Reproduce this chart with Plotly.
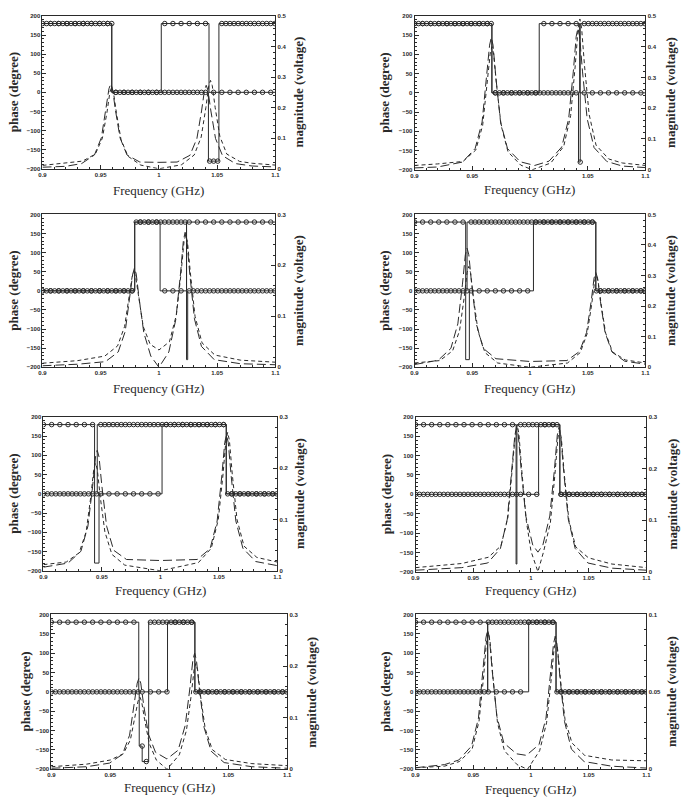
import numpy as np
import plotly.graph_objects as go

# ---------------- data ----------------
FREQ_RANGE = [0.9, 1.1]
MAG_MAX = [0.5, 0.5, 0.3, 0.5, 0.3, 0.3, 0.3, 0.1]

# magnitude (voltage) curves: long-dash (L) and short-dash (S)
P1_L_F = [0.9, 0.92, 0.9336, 0.9446, 0.9506, 0.9546, 0.9571, 0.9586, 0.9601, 0.9626, 0.9666, 0.9726, 0.9836, 1.0, 1.0156, 1.0266, 1.0326, 1.0366, 1.0391, 1.0406, 1.0421, 1.0446, 1.0486, 1.0546, 1.0656, 1.08, 1.1]
P1_L_M = [0.005, 0.008, 0.017, 0.045, 0.102, 0.194, 0.262, 0.278, 0.262, 0.193, 0.101, 0.045, 0.022, 0.021, 0.022, 0.044, 0.099, 0.189, 0.257, 0.273, 0.257, 0.189, 0.099, 0.043, 0.017, 0.009, 0.006]
P1_S_F = [0.9, 0.92, 0.9344, 0.9454, 0.9514, 0.9554, 0.9579, 0.9594, 0.9609, 0.9634, 0.9674, 0.9734, 0.9844, 1.0, 1.0193, 1.0303, 1.0363, 1.0403, 1.0428, 1.0443, 1.0458, 1.0483, 1.0523, 1.0583, 1.0693, 1.08, 1.1]
P1_S_M = [0.011, 0.018, 0.025, 0.048, 0.1, 0.185, 0.251, 0.267, 0.251, 0.185, 0.096, 0.041, 0.012, 0.0, 0.013, 0.045, 0.104, 0.2, 0.272, 0.289, 0.272, 0.2, 0.106, 0.048, 0.024, 0.018, 0.012]

P2_L_F = [0.9, 0.92, 0.9415, 0.9525, 0.9585, 0.9625, 0.965, 0.9665, 0.968, 0.9705, 0.9745, 0.9805, 0.9915, 1.004, 1.0165, 1.0275, 1.0335, 1.0375, 1.04, 1.0415, 1.043, 1.0455, 1.0495, 1.0555, 1.0665, 1.08, 1.1]
P2_L_M = [0.006, 0.009, 0.025, 0.069, 0.155, 0.298, 0.405, 0.43, 0.405, 0.298, 0.155, 0.069, 0.026, 0.014, 0.028, 0.074, 0.166, 0.318, 0.433, 0.46, 0.433, 0.318, 0.166, 0.072, 0.027, 0.012, 0.007]
P2_S_F = [0.9, 0.92, 0.942, 0.953, 0.959, 0.963, 0.9655, 0.967, 0.9685, 0.971, 0.975, 0.981, 0.992, 1.002, 1.018, 1.0292, 1.0352, 1.0392, 1.0417, 1.0432, 1.0447, 1.0472, 1.0512, 1.0572, 1.0682, 1.08, 1.1]
P2_S_M = [0.014, 0.019, 0.027, 0.064, 0.144, 0.277, 0.376, 0.40, 0.376, 0.277, 0.144, 0.058, 0.015, 0.0, 0.022, 0.076, 0.176, 0.339, 0.461, 0.49, 0.461, 0.339, 0.18, 0.08, 0.035, 0.022, 0.014]

P3_L_F = [0.9, 0.93, 0.954, 0.965, 0.971, 0.975, 0.9775, 0.979, 0.9805, 0.983, 0.987, 0.993, 1.0, 1.0085, 1.0145, 1.0185, 1.021, 1.0225, 1.024, 1.0265, 1.0305, 1.0365, 1.0475, 1.07, 1.1]
P3_L_M = [0.003, 0.006, 0.011, 0.030, 0.070, 0.135, 0.183, 0.195, 0.183, 0.135, 0.068, 0.022, 0.0, 0.03, 0.094, 0.183, 0.249, 0.265, 0.249, 0.183, 0.095, 0.041, 0.015, 0.007, 0.005]
P3_S_F = [0.9, 0.93, 0.9535, 0.9645, 0.9705, 0.9745, 0.977, 0.9785, 0.98, 0.9825, 0.9865, 0.9925, 1.0, 1.009, 1.015, 1.019, 1.0215, 1.023, 1.0245, 1.027, 1.031, 1.037, 1.048, 1.07, 1.1]
P3_S_M = [0.008, 0.013, 0.022, 0.042, 0.08, 0.14, 0.178, 0.186, 0.178, 0.14, 0.08, 0.045, 0.034, 0.05, 0.103, 0.185, 0.246, 0.26, 0.246, 0.185, 0.1, 0.048, 0.024, 0.014, 0.01]

P4_L_F = [0.9, 0.9205, 0.9315, 0.9375, 0.9415, 0.944, 0.9455, 0.947, 0.9495, 0.9535, 0.9595, 0.9705, 1.0, 1.032, 1.043, 1.049, 1.053, 1.0555, 1.057, 1.0585, 1.061, 1.065, 1.071, 1.082, 1.1]
P4_L_M = [0.009, 0.023, 0.062, 0.142, 0.272, 0.368, 0.39, 0.368, 0.272, 0.142, 0.062, 0.028, 0.019, 0.022, 0.052, 0.114, 0.216, 0.292, 0.31, 0.292, 0.216, 0.114, 0.05, 0.02, 0.01]
P4_S_F = [0.9, 0.922, 0.933, 0.939, 0.943, 0.9455, 0.947, 0.9485, 0.951, 0.955, 0.961, 0.972, 1.0, 1.0325, 1.0435, 1.0495, 1.0535, 1.056, 1.0575, 1.059, 1.0615, 1.0655, 1.0715, 1.0825, 1.1]
P4_S_M = [0.014, 0.022, 0.054, 0.12, 0.228, 0.31, 0.33, 0.31, 0.228, 0.118, 0.048, 0.014, 0.0, 0.014, 0.048, 0.11, 0.208, 0.282, 0.30, 0.282, 0.208, 0.112, 0.05, 0.024, 0.014]

P5_L_F = [0.9, 0.921, 0.932, 0.938, 0.942, 0.9445, 0.946, 0.9475, 0.95, 0.954, 0.96, 0.971, 1.0, 1.0315, 1.0425, 1.0485, 1.0525, 1.055, 1.0565, 1.058, 1.0605, 1.0645, 1.0705, 1.0815, 1.1]
P5_L_M = [0.007, 0.015, 0.038, 0.087, 0.164, 0.222, 0.235, 0.222, 0.164, 0.087, 0.04, 0.022, 0.02, 0.022, 0.043, 0.097, 0.185, 0.25, 0.265, 0.25, 0.185, 0.097, 0.044, 0.018, 0.01]
P5_S_F = [0.9, 0.9195, 0.9305, 0.9365, 0.9405, 0.943, 0.9445, 0.946, 0.9485, 0.9525, 0.9585, 0.9695, 1.0, 1.0325, 1.0435, 1.0495, 1.0535, 1.056, 1.0575, 1.059, 1.0615, 1.0655, 1.0715, 1.0825, 1.1]
P5_S_M = [0.012, 0.017, 0.035, 0.076, 0.145, 0.198, 0.21, 0.198, 0.145, 0.076, 0.032, 0.011, 0.0, 0.016, 0.044, 0.1, 0.187, 0.254, 0.27, 0.254, 0.187, 0.1, 0.048, 0.026, 0.017]

P6_L_F = [0.9, 0.94, 0.9625, 0.9735, 0.9795, 0.9835, 0.986, 0.9875, 0.989, 0.9915, 0.9955, 1.0015, 1.006, 1.0103, 1.0163, 1.0203, 1.0228, 1.0243, 1.0258, 1.0283, 1.0323, 1.0383, 1.0493, 1.07, 1.1]
P6_L_M = [0.003, 0.008, 0.017, 0.045, 0.102, 0.195, 0.264, 0.28, 0.265, 0.198, 0.108, 0.052, 0.038, 0.052, 0.108, 0.198, 0.265, 0.28, 0.264, 0.195, 0.102, 0.045, 0.017, 0.007, 0.003]
P6_S_F = [0.9, 0.94, 0.963, 0.974, 0.98, 0.984, 0.9865, 0.988, 0.9895, 0.992, 0.996, 1.0, 1.006, 1.0108, 1.0168, 1.0208, 1.0233, 1.0248, 1.0263, 1.0288, 1.0328, 1.0388, 1.0498, 1.07, 1.1]
P6_S_M = [0.008, 0.016, 0.028, 0.05, 0.105, 0.197, 0.268, 0.285, 0.268, 0.197, 0.098, 0.04, 0.0, 0.038, 0.095, 0.19, 0.259, 0.275, 0.259, 0.19, 0.1, 0.048, 0.027, 0.015, 0.008]

P7_L_F = [0.9, 0.93, 0.9493, 0.9603, 0.9663, 0.9703, 0.9728, 0.9743, 0.9758, 0.9783, 0.9823, 0.9883, 0.998, 1.0075, 1.0135, 1.0175, 1.02, 1.0215, 1.023, 1.0255, 1.0295, 1.0355, 1.0465, 1.07, 1.1]
P7_L_M = [0.002, 0.005, 0.012, 0.029, 0.066, 0.124, 0.167, 0.177, 0.167, 0.124, 0.068, 0.033, 0.02, 0.037, 0.085, 0.158, 0.212, 0.225, 0.212, 0.156, 0.081, 0.035, 0.013, 0.005, 0.002]
P7_S_F = [0.9, 0.93, 0.95, 0.961, 0.967, 0.971, 0.9735, 0.975, 0.9765, 0.979, 0.983, 0.989, 0.998, 1.0085, 1.0145, 1.0185, 1.021, 1.0225, 1.024, 1.0265, 1.0305, 1.0365, 1.0475, 1.07, 1.1]
P7_S_M = [0.005, 0.01, 0.018, 0.03, 0.057, 0.099, 0.132, 0.14, 0.132, 0.097, 0.05, 0.018, 0.0, 0.028, 0.075, 0.142, 0.193, 0.205, 0.193, 0.142, 0.078, 0.038, 0.019, 0.011, 0.007]

P8_L_F = [0.9, 0.925, 0.9375, 0.9485, 0.9545, 0.9585, 0.961, 0.9625, 0.964, 0.9665, 0.9705, 0.9765, 0.9875, 0.996, 1.007, 1.013, 1.017, 1.0195, 1.021, 1.0225, 1.025, 1.029, 1.035, 1.046, 1.07, 1.1]
P8_L_M = [0.001, 0.003, 0.006, 0.015, 0.033, 0.063, 0.085, 0.09, 0.085, 0.063, 0.034, 0.017, 0.01, 0.009, 0.016, 0.033, 0.061, 0.081, 0.086, 0.081, 0.06, 0.031, 0.013, 0.005, 0.002, 0.0008]
P8_S_F = [0.9, 0.925, 0.938, 0.949, 0.955, 0.959, 0.9615, 0.963, 0.9645, 0.967, 0.971, 0.977, 0.988, 0.997, 1.0075, 1.0135, 1.0175, 1.02, 1.0215, 1.023, 1.0255, 1.0295, 1.0355, 1.0465, 1.07, 1.1]
P8_S_M = [0.001, 0.002, 0.005, 0.013, 0.031, 0.06, 0.083, 0.088, 0.083, 0.06, 0.03, 0.012, 0.003, 0.0, 0.012, 0.03, 0.058, 0.078, 0.083, 0.078, 0.058, 0.032, 0.017, 0.009, 0.006, 0.0055]

# phase (degree) step curves: frequencies where the phase jumps, and levels
P1_DENSE_EDGES = [0.9595, 1.0425, 1.0515]
P1_DENSE_LEVELS = [180, 0, -180, 180]
P1_SPARSE_EDGES = [0.9595, 1.002, 1.043]
P1_SPARSE_LEVELS = [180, 0, 180, 0]

P2_DENSE_EDGES = [0.967, 1.042, 1.0435]
P2_DENSE_LEVELS = [180, 0, -180, 180]
P2_SPARSE_EDGES = [0.967, 1.008, 1.043]
P2_SPARSE_LEVELS = [180, 0, 180, 0]

P3_DENSE_EDGES = [0.9792, 1.0237, 1.0247]
P3_DENSE_LEVELS = [0, 180, -180, 0]
P3_SPARSE_EDGES = [0.9792, 1.001, 1.0237]
P3_SPARSE_LEVELS = [0, 180, 0, 180]

P4_DENSE_EDGES = [0.9455, 1.057]
P4_DENSE_LEVELS = [0, 180, 0]
P4_SPARSE_EDGES = [0.9443, 0.9475, 1.003, 1.057]
P4_SPARSE_LEVELS = [180, -180, 0, 180, 0]

P5_DENSE_EDGES = [0.946, 1.0563]
P5_DENSE_LEVELS = [0, 180, 0]
P5_SPARSE_EDGES = [0.9437, 0.9475, 1.0014, 1.0563]
P5_SPARSE_LEVELS = [180, -180, 0, 180, 0]

P6_DENSE_EDGES = [0.9878, 1.025]
P6_DENSE_LEVELS = [0, 180, 0]
P6_SPARSE_EDGES = [0.9871, 0.9878, 1.0066, 1.025]
P6_SPARSE_LEVELS = [180, -180, 0, 180, 0]

P7_DENSE_EDGES = [0.9745, 0.977, 0.9825, 1.0217]
P7_DENSE_LEVELS = [0, -140, -180, 180, 0]
P7_SPARSE_EDGES = [0.9741, 0.9985, 1.0217]
P7_SPARSE_LEVELS = [180, 0, 180, 0]

P8_DENSE_EDGES = [0.9625, 1.0217]
P8_DENSE_LEVELS = [0, 180, 0]
P8_SPARSE_EDGES = [0.9625, 0.998, 1.0217]
P8_SPARSE_LEVELS = [180, 0, 180, 0]

DENSE_STEP = 0.0035
SPARSE_STEP = 0.007

PANELS = [
    (P1_L_F, P1_L_M, P1_S_F, P1_S_M, P1_DENSE_EDGES, P1_DENSE_LEVELS, P1_SPARSE_EDGES, P1_SPARSE_LEVELS),
    (P2_L_F, P2_L_M, P2_S_F, P2_S_M, P2_DENSE_EDGES, P2_DENSE_LEVELS, P2_SPARSE_EDGES, P2_SPARSE_LEVELS),
    (P3_L_F, P3_L_M, P3_S_F, P3_S_M, P3_DENSE_EDGES, P3_DENSE_LEVELS, P3_SPARSE_EDGES, P3_SPARSE_LEVELS),
    (P4_L_F, P4_L_M, P4_S_F, P4_S_M, P4_DENSE_EDGES, P4_DENSE_LEVELS, P4_SPARSE_EDGES, P4_SPARSE_LEVELS),
    (P5_L_F, P5_L_M, P5_S_F, P5_S_M, P5_DENSE_EDGES, P5_DENSE_LEVELS, P5_SPARSE_EDGES, P5_SPARSE_LEVELS),
    (P6_L_F, P6_L_M, P6_S_F, P6_S_M, P6_DENSE_EDGES, P6_DENSE_LEVELS, P6_SPARSE_EDGES, P6_SPARSE_LEVELS),
    (P7_L_F, P7_L_M, P7_S_F, P7_S_M, P7_DENSE_EDGES, P7_DENSE_LEVELS, P7_SPARSE_EDGES, P7_SPARSE_LEVELS),
    (P8_L_F, P8_L_M, P8_S_F, P8_S_M, P8_DENSE_EDGES, P8_DENSE_LEVELS, P8_SPARSE_EDGES, P8_SPARSE_LEVELS),
]

# ---------------- layout (pixels) ----------------
W, H = 685, 812
# plot-area boxes: x0, x1, y0 (top), y1 (bottom)
BOXES = [
    (39, 275, 13, 167), (416, 650, 13, 168),
    (39, 275, 213, 367), (416, 650, 213, 367),
    (40, 277, 417, 572), (417, 651, 417, 573),
    (48, 287, 616, 772), (417, 651, 616, 772),
]
# title positions: phase x, magnitude x, frequency y
TITLE_POS = [
    (9, 298, 189), (386, 676, 188),
    (10, 299, 388), (386, 676, 388),
    (10, 300, 592), (387, 677, 592),
    (22, 312, 790), (387, 677, 792),
]

INK = "#2a2a2a"
TICKFONT = dict(family="Liberation Sans", size=6, color=INK, weight="bold")


def step_xy(edges, levels):
    xs, ys = [FREQ_RANGE[0]], [levels[0]]
    for e, a, b in zip(edges, levels[:-1], levels[1:]):
        xs += [e, e]
        ys += [a, b]
    xs.append(FREQ_RANGE[1])
    ys.append(levels[-1])
    return xs, ys


def step_markers(edges, levels, step):
    f = np.arange(FREQ_RANGE[0], FREQ_RANGE[1] + 1e-9, step)
    idx = np.searchsorted(np.array(edges), f, side="right")
    return f, np.array(levels)[idx]


fig = go.Figure()
layout = dict(
    width=W, height=H, margin=dict(l=0, r=0, t=0, b=0),
    paper_bgcolor="white", plot_bgcolor="white", showlegend=False,
)
annotations = []

for i, (panel, box, tpos, mmax) in enumerate(zip(PANELS, BOXES, TITLE_POS, MAG_MAX), start=1):
    lf, lm, sf, sm, de, dl, se, sl = panel
    x0, x1, y0, y1 = box
    xname = "x" if i == 1 else f"x{i}"
    pname = "y" if i == 1 else f"y{i}"
    mname = f"y{i + 8}"

    # magnitude curves
    fig.add_trace(go.Scatter(x=lf, y=lm, xaxis=xname, yaxis=mname, mode="lines",
                             line=dict(color=INK, width=1, dash="9px,4px")))
    fig.add_trace(go.Scatter(x=sf, y=sm, xaxis=xname, yaxis=mname, mode="lines",
                             line=dict(color=INK, width=1, dash="4px,3px")))
    # phase curves
    for edges, levels, step in ((se, sl, SPARSE_STEP), (de, dl, DENSE_STEP)):
        xs, ys = step_xy(edges, levels)
        fig.add_trace(go.Scatter(x=xs, y=ys, xaxis=xname, yaxis=pname, mode="lines",
                                 line=dict(color=INK, width=1)))
        mx, my = step_markers(edges, levels, step)
        fig.add_trace(go.Scatter(x=mx, y=my, xaxis=xname, yaxis=pname, mode="markers",
                                 marker=dict(symbol="circle-open", size=4.5, color=INK,
                                             line=dict(width=1, color=INK))))

    xdom = [x0 / W, x1 / W]
    ydom = [1 - y1 / H, 1 - y0 / H]
    layout["xaxis" if i == 1 else f"xaxis{i}"] = dict(
        domain=xdom, anchor=pname, range=FREQ_RANGE, tickmode="linear", tick0=0.9, dtick=0.05,
        ticks="inside", ticklen=4, tickwidth=1, tickcolor=INK,
        minor=dict(ticks="inside", ticklen=2, dtick=0.01, tick0=0.9, tickcolor=INK),
        showline=True, linecolor=INK, linewidth=1, mirror=True,
        showgrid=False, zeroline=False, tickfont=TICKFONT,
    )
    layout["yaxis" if i == 1 else f"yaxis{i}"] = dict(
        domain=ydom, anchor=xname, range=[-200, 200], tickmode="linear", tick0=-200, dtick=50,
        ticks="inside", ticklen=4, tickwidth=1, tickcolor=INK,
        minor=dict(ticks="inside", ticklen=2, dtick=10, tick0=-200, tickcolor=INK),
        showline=True, linecolor=INK, linewidth=1,
        showgrid=False, zeroline=False, tickfont=TICKFONT,
    )
    mdt = 0.05 if mmax <= 0.1 else 0.1
    layout[f"yaxis{i + 8}"] = dict(
        overlaying=pname, side="right", anchor=xname, range=[0, mmax],
        tickmode="linear", tick0=0, dtick=mdt,
        ticks="inside", ticklen=4, tickwidth=1, tickcolor=INK,
        minor=dict(ticks="inside", ticklen=2, dtick=mdt / 5, tick0=0, tickcolor=INK),
        showline=True, linecolor=INK, linewidth=1,
        showgrid=False, zeroline=False, tickfont=TICKFONT,
    )

    px, mx_, fy = tpos
    yc = 1 - (y0 + y1) / 2 / H
    annotations.append(dict(x=px / W, y=yc, xref="paper", yref="paper", text="phase (degree)",
                            textangle=-90, showarrow=False, xanchor="center", yanchor="middle",
                            font=dict(family="Liberation Serif", size=13, color=INK, weight="bold")))
    annotations.append(dict(x=mx_ / W, y=yc, xref="paper", yref="paper", text="magnitude (voltage)",
                            textangle=-90, showarrow=False, xanchor="center", yanchor="middle",
                            font=dict(family="Liberation Serif", size=13, color=INK, weight="bold")))
    annotations.append(dict(x=(x0 + x1) / 2 / W, y=1 - fy / H, xref="paper", yref="paper",
                            text="Frequency (GHz)", showarrow=False, xanchor="center", yanchor="middle",
                            font=dict(family="Liberation Serif", size=13, color=INK)))

layout["annotations"] = annotations
fig.update_layout(**layout)
fig.write_html("out.html")
